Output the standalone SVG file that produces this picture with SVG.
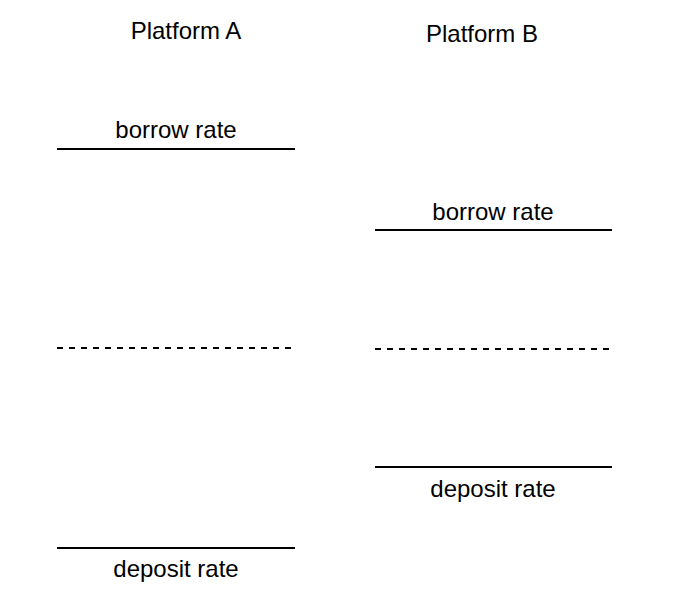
<svg xmlns="http://www.w3.org/2000/svg" width="686" height="612" viewBox="0 0 686 612">
<style>
text{font-family:"Liberation Sans",Arial,sans-serif;font-size:24px;fill:#000;text-anchor:middle}
.solid{stroke:#000;stroke-width:2;fill:none}
.dash{stroke:#000;stroke-width:2;fill:none;stroke-dasharray:6 6}
</style>
<rect width="686" height="612" fill="#fff"/>
<g id="platformA">
<text x="186" y="39">Platform A</text>
</g>
<g id="platformB">
<text x="482" y="42">Platform B</text>
</g>
<g id="connectors">
<line class="solid" x1="57" y1="149" x2="295" y2="149"/>
<line class="dash" x1="57" y1="348" x2="292" y2="348"/>
<line class="solid" x1="57" y1="548" x2="295" y2="548"/>
<line class="solid" x1="375" y1="230" x2="612" y2="230"/>
<line class="dash" x1="375" y1="349" x2="610" y2="349"/>
<line class="solid" x1="375" y1="467" x2="612" y2="467"/>
</g>
<g id="borrowA"><text x="176" y="138">borrow rate</text></g>
<g id="depositA"><text x="176" y="577">deposit rate</text></g>
<g id="borrowB"><text x="493" y="220">borrow rate</text></g>
<g id="depositB"><text x="493" y="497">deposit rate</text></g>
</svg>
